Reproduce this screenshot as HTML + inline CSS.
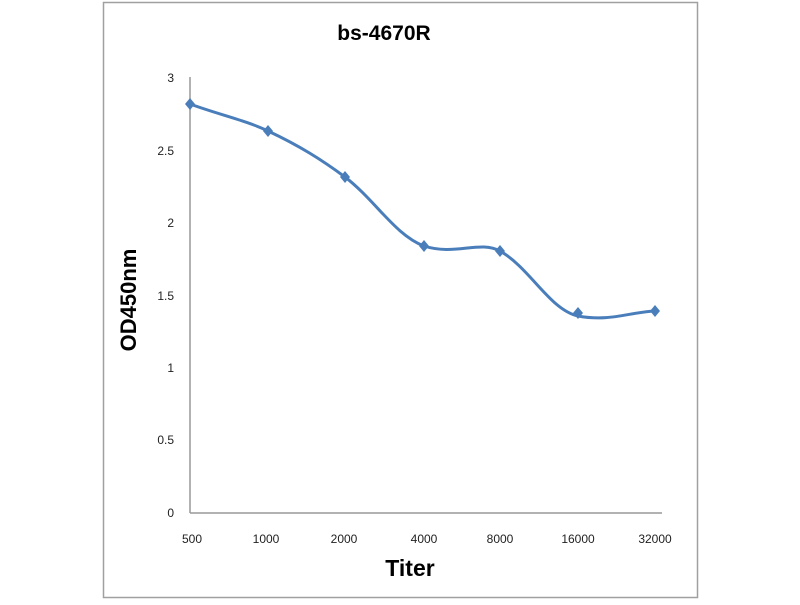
<!DOCTYPE html>
<html><head><style>body{margin:0;background:#fff}</style></head><body>
<svg width="800" height="600" xmlns="http://www.w3.org/2000/svg" font-family="Liberation Sans, sans-serif">
<rect x="103.5" y="2.5" width="594" height="595" fill="#fff" stroke="#a0a0a0" stroke-width="1.5"/>
<text x="384" y="40" font-size="21" font-weight="bold" text-anchor="middle">bs-4670R</text>
<line x1="190" y1="77" x2="190" y2="513" stroke="#999" stroke-width="1.5"/>
<line x1="190" y1="513" x2="662" y2="513" stroke="#999" stroke-width="1.5"/>
<g font-size="12" text-anchor="end" fill="#222">
<text x="174" y="82">3</text><text x="174" y="155">2.5</text><text x="174" y="227">2</text>
<text x="174" y="300">1.5</text><text x="174" y="372">1</text><text x="174" y="444">0.5</text><text x="174" y="517">0</text>
</g>
<g font-size="12" text-anchor="middle" fill="#222">
<text x="192" y="543">500</text><text x="266" y="543">1000</text><text x="344" y="543">2000</text>
<text x="424" y="543">4000</text><text x="500" y="543">8000</text><text x="578" y="543">16000</text><text x="655" y="543">32000</text>
</g>
<text x="410" y="576" font-size="23" font-weight="bold" text-anchor="middle">Titer</text>
<text transform="translate(136,300) rotate(-90)" font-size="22" font-weight="bold" text-anchor="middle">OD450nm</text>
<path d="M190,104 C220,115 245,120 268,131 C300,146 322,160 345,177 C375,200 395,235 424,246 C455,256 480,240 500,251 C530,268 550,310 578,316 C610,322 630,312 655,311" fill="none" stroke="#4a7ebb" stroke-width="3"/>
<g fill="#4a7ebb">
<path d="M190,98 l5,6 -5,6 -5,-6z"/><path d="M268,125 l5,6 -5,6 -5,-6z"/><path d="M345,171 l5,6 -5,6 -5,-6z"/>
<path d="M424,240 l5,6 -5,6 -5,-6z"/><path d="M500,245 l5,6 -5,6 -5,-6z"/><path d="M578,307 l5,6 -5,6 -5,-6z"/><path d="M655,305 l5,6 -5,6 -5,-6z"/>
</g>
</svg>
</body></html>
